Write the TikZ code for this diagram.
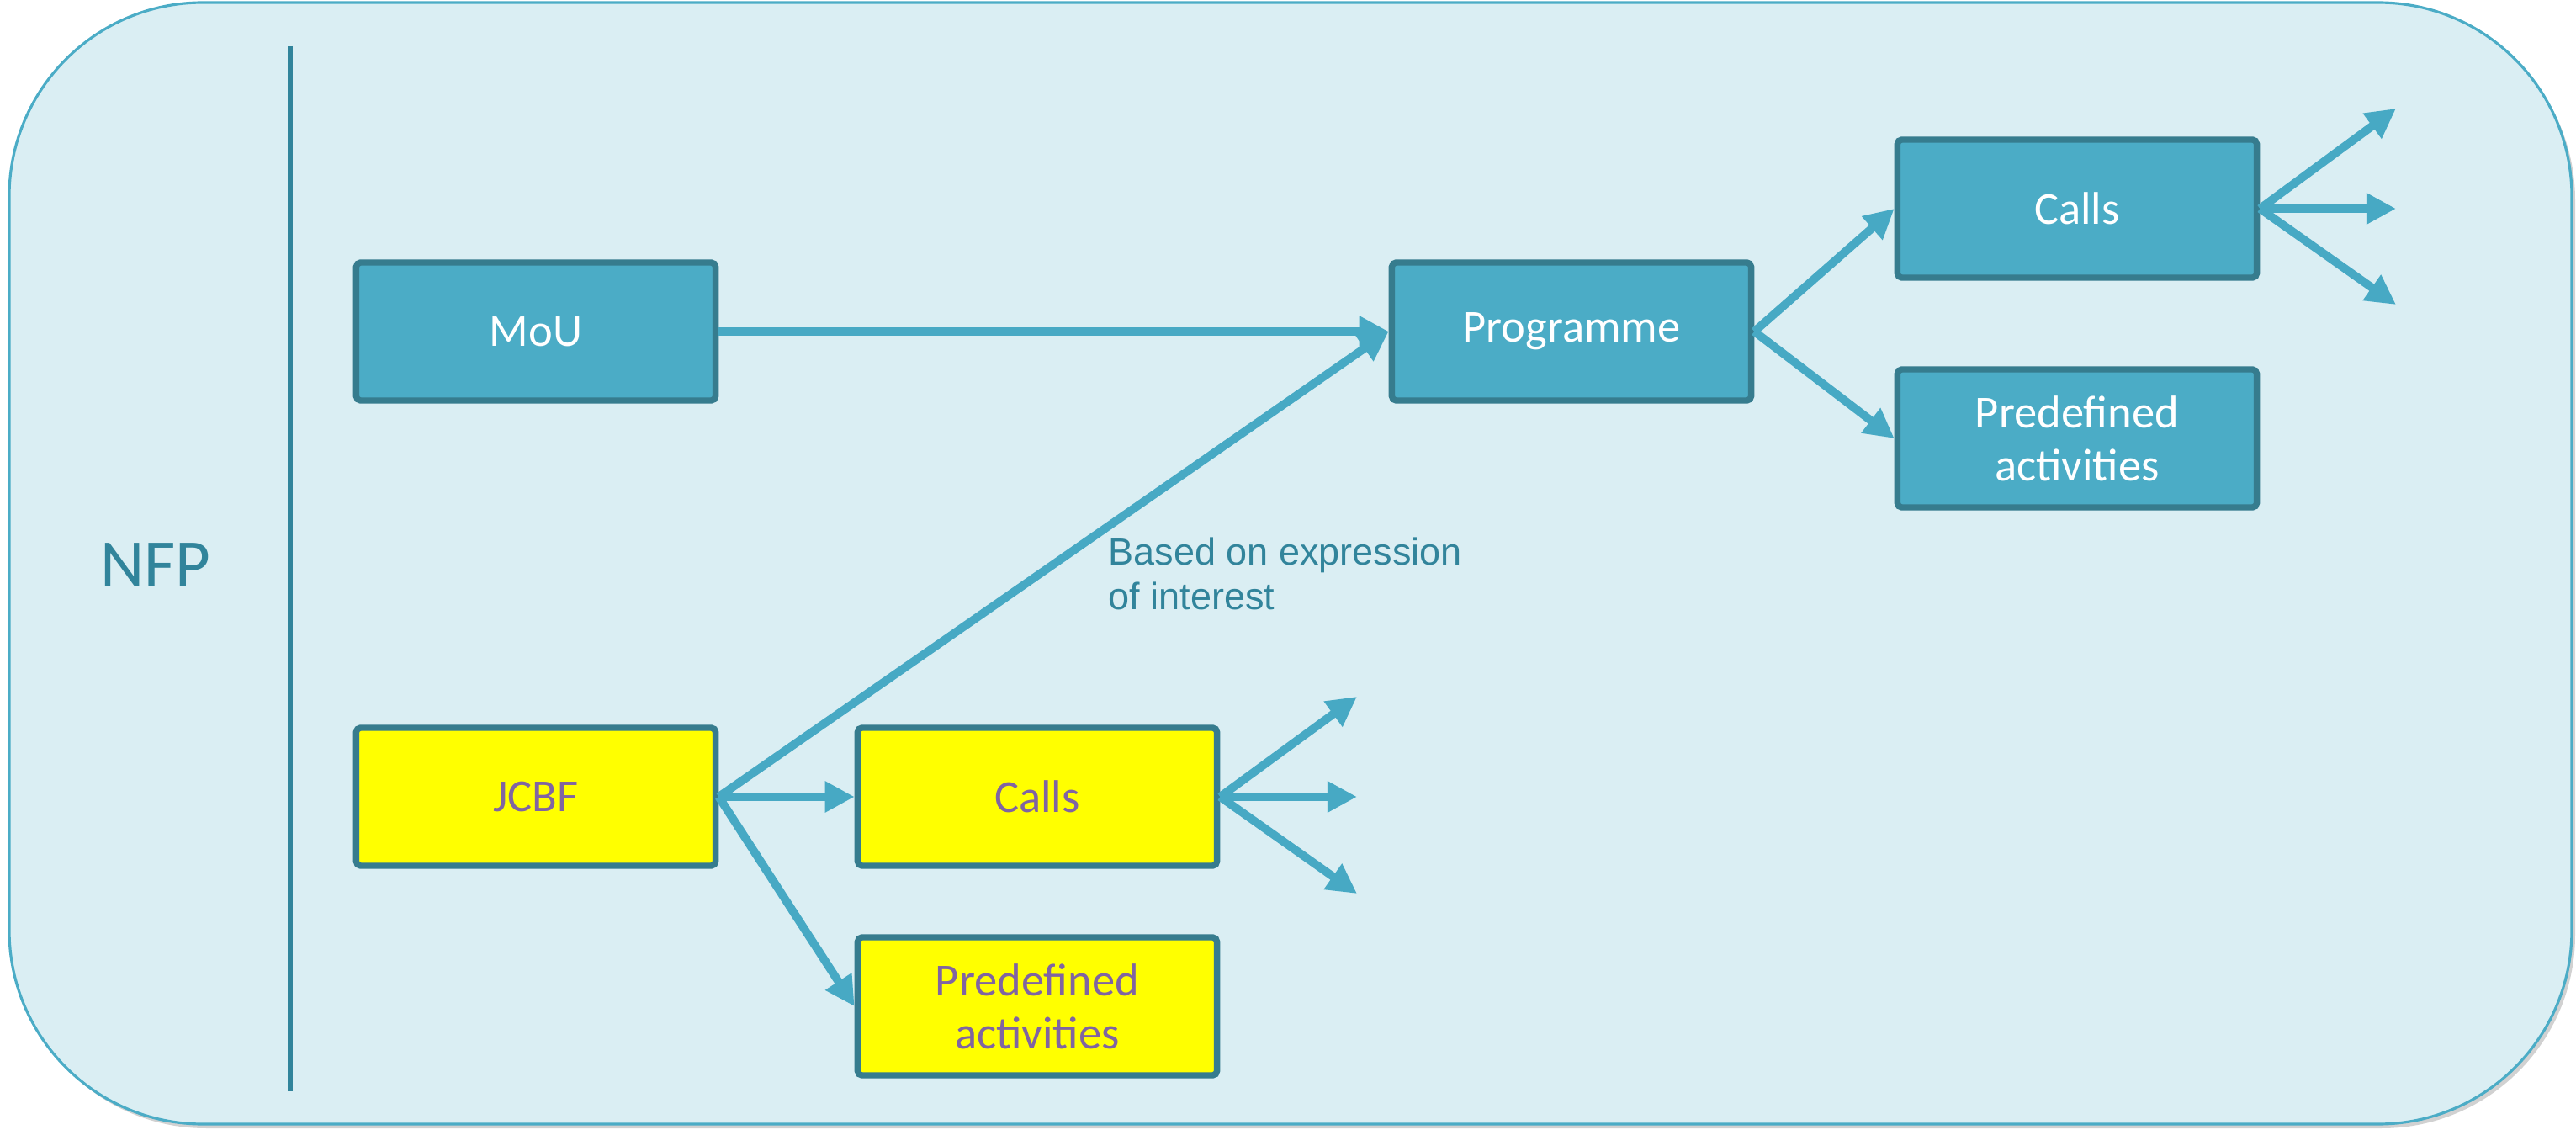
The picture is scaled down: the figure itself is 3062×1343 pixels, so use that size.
\documentclass[tikz,border=0pt]{standalone}
\usepackage{fontspec}
\setmainfont{Carlito}
\newfontfamily\labelfont{Liberation Sans}
\usetikzlibrary{arrows.meta}
\definecolor{bgfill}{HTML}{DAEEF3}
\definecolor{outerline}{HTML}{4BACC6}
\definecolor{boxfill}{HTML}{4BACC6}
\definecolor{boxborder}{HTML}{367C8E}
\definecolor{arrowc}{HTML}{47A9C4}
\definecolor{teal}{HTML}{31849B}
\definecolor{ytext}{HTML}{8064A2}
\definecolor{yfill}{RGB}{255,255,0}
\begin{document}
\begin{tikzpicture}[x=0.01cm,y=-0.01cm,
  box/.style={draw=boxborder, line width=2.1pt, fill=boxfill, minimum width=4.27cm,
    minimum height=1.64cm, inner sep=0pt, align=center,
    font=\fontsize{15.5}{18}\selectfont, text=white, rounded corners=1.5pt},
  ybox/.style={box, fill=yfill, text=ytext},
  conn/.style={draw=arrowc, line width=2.8pt, -{Triangle[length=10pt,width=10pt]}},
  vline/.style={draw=teal, line width=1.7pt},
  lbl/.style={font=\labelfont\fontsize{12.8}{15}\selectfont, text=teal, align=left},
]
\useasboundingbox (0,0) rectangle (3062,1343);
% shadow and outer panel
\fill[black, opacity=0.18, rounded corners=2.3cm] (15,8) rectangle (3061,1341);
\draw[fill=bgfill, draw=outerline, line width=0.9pt, rounded corners=2.3cm] (11,3) rectangle (3057,1336);
% separator and side label
\coordinate (vtop) at (345,55);
\coordinate (vbot) at (345,1297);
\draw[vline] (vtop) -- (vbot);
\node[font=\fontsize{23}{27}\selectfont, text=teal, inner sep=0pt] (nfp) at (185,672) {NFP};
% boxes
\node[box] (mou) at (637,394) {MoU};
\node[box] (prog) at (1868,394) {Programme};
\node[box] (callsb) at (2469,248) {Calls};
\node[box] (predb) at (2469,521) {Predefined\\activities};
\node[ybox] (jcbf) at (637,947) {JCBF};
\node[ybox] (callsy) at (1233,947) {Calls};
\node[ybox] (predy) at (1233,1196) {Predefined\\activities};
% label
\node[lbl, anchor=north west, inner sep=0pt] (based) at (1317,638) {Based on expression\\of interest};
% free ends
\coordinate (b1) at (2848,129);
\coordinate (b2) at (2848,248);
\coordinate (b3) at (2848,362);
\coordinate (y1) at (1613,828);
\coordinate (y2) at (1613,947);
\coordinate (y3) at (1613,1062);
% connectors
\draw[conn] (mou.east) -- (prog.west);
\draw[conn] (jcbf.east) -- (prog.west);
\draw[conn] (prog.east) -- (callsb.west);
\draw[conn] (prog.east) -- (predb.west);
\draw[conn] (callsb.east) -- (b1);
\draw[conn] (callsb.east) -- (b2);
\draw[conn] (callsb.east) -- (b3);
\draw[conn] (jcbf.east) -- (callsy.west);
\draw[conn] (jcbf.east) -- (predy.west);
\draw[conn] (callsy.east) -- (y1);
\draw[conn] (callsy.east) -- (y2);
\draw[conn] (callsy.east) -- (y3);
\end{tikzpicture}
\end{document}
